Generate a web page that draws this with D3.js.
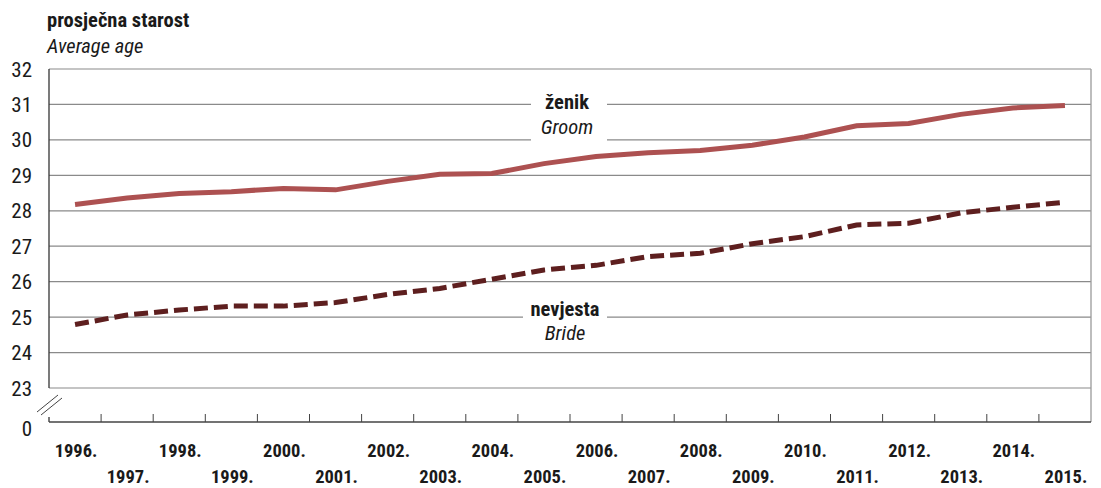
<!DOCTYPE html>
<html><head><meta charset="utf-8">
<script src="https://cdn.jsdelivr.net/npm/d3@7"></script>
<style>
body{margin:0;background:#fff;}
text{font-family:"Liberation Sans Narrow","Roboto Condensed","Arial Narrow",sans-serif;fill:#1a1a1a;}
</style></head>
<body><svg id="c" width="1101" height="488"></svg>
<script>
const years = ["1996.","1997.","1998.","1999.","2000.","2001.","2002.","2003.","2004.","2005.","2006.","2007.","2008.","2009.","2010.","2011.","2012.","2013.","2014.","2015."];
const groom = [28.18,28.36,28.49,28.54,28.63,28.59,28.83,29.03,29.05,29.33,29.53,29.64,29.70,29.85,30.08,30.40,30.46,30.72,30.90,30.97];
const bride = [24.79,25.06,25.20,25.31,25.31,25.41,25.64,25.81,26.07,26.33,26.46,26.71,26.80,27.07,27.27,27.60,27.65,27.94,28.10,28.24];
const yTicks = [23,24,25,26,27,28,29,30,31,32];
const titleHr = "prosječna starost", titleEn = "Average age";
const groomHr = "ženik", groomEn = "Groom", brideHr = "nevjesta", brideEn = "Bride";

const svg = d3.select("#c");
const L = 49, R = 1091, T = 69, B = 388, AX = 422;
const x = d3.scaleBand().domain(years).range([L, R]);
const y = d3.scaleLinear().domain([23, 32]).range([B, T]);

// gridlines
svg.append("g").selectAll("line").data(yTicks).join("line")
  .attr("x1", L).attr("x2", R).attr("y1", d => y(d)).attr("y2", d => y(d))
  .attr("stroke", "#8a8a8a").attr("stroke-width", 1.2);
// y labels
svg.append("g").selectAll("text").data(yTicks).join("text")
  .attr("x", 32).attr("y", d => y(d)).attr("dy", "0.36em").attr("text-anchor", "end")
  .attr("font-size", 21).text(d => d);
svg.append("text").attr("x", 32).attr("y", AX + 6).attr("dy", "0.36em").attr("text-anchor", "end")
  .attr("font-size", 21).text("0");

// left axis
svg.append("line").attr("x1", L).attr("x2", L).attr("y1", T).attr("y2", B).attr("stroke", "#333").attr("stroke-width", 1.3);
svg.append("line").attr("x1", L).attr("x2", L).attr("y1", AX - 5).attr("y2", AX).attr("stroke", "#333").attr("stroke-width", 1.3);
// right border
svg.append("line").attr("x1", R).attr("x2", R).attr("y1", T).attr("y2", AX).attr("stroke", "#9a9a9a").attr("stroke-width", 1.3);
// break marks
[[0,0],[4,3]].forEach(([dx,dy]) => svg.append("line")
  .attr("x1", 37 + dx).attr("y1", 412 + dy).attr("x2", 58 + dx).attr("y2", 395 + dy)
  .attr("stroke", "#444").attr("stroke-width", 1));

// bottom axis
const xAxis = d3.axisBottom(x).tickSize(0).tickFormat("");
const gx = svg.append("g").attr("transform", `translate(0,${AX})`).call(xAxis);
gx.select(".domain").remove();
svg.append("line").attr("x1", L).attr("x2", R).attr("y1", AX).attr("y2", AX).attr("stroke", "#444").attr("stroke-width", 1.3);
svg.append("g").selectAll("line").data(years.slice(1)).join("line")
  .attr("x1", d => x(d)).attr("x2", d => x(d)).attr("y1", AX - 8).attr("y2", AX)
  .attr("stroke", "#444").attr("stroke-width", 1);
svg.append("g").selectAll("text").data(years).join("text")
  .attr("x", d => x(d) + x.bandwidth() / 2 + 1)
  .attr("y", (d, i) => i % 2 === 0 ? 457 : 483)
  .attr("text-anchor", "middle").attr("font-size", 18.5).attr("font-weight", "bold").text(d => d);

// titles
svg.append("text").attr("x", 47).attr("y", 27).attr("font-size", 20.5).attr("font-weight", "bold").text(titleHr);
svg.append("text").attr("x", 47).attr("y", 53).attr("font-size", 20.5).attr("font-style", "italic").text(titleEn);

// label backgrounds
svg.append("rect").attr("x", 531).attr("y", 92).attr("width", 76).attr("height", 50).attr("fill", "#fff");
svg.append("rect").attr("x", 523).attr("y", 298).attr("width", 84).attr("height", 48).attr("fill", "#fff");

// lines
const line = d3.line().x((d, i) => x(years[i]) + x.bandwidth() / 2).y(d => y(d));
svg.append("path").datum(groom).attr("d", line).attr("fill", "none")
  .attr("stroke", "#ad5151").attr("stroke-width", 5);
svg.append("path").datum(bride).attr("d", line).attr("fill", "none")
  .attr("stroke", "#5e1f1f").attr("stroke-width", 5).attr("stroke-dasharray", "14,6");

// series labels
svg.append("text").attr("x", 567).attr("y", 109).attr("text-anchor", "middle").attr("font-size", 20.5).attr("font-weight", "bold").text(groomHr);
svg.append("text").attr("x", 567).attr("y", 134).attr("text-anchor", "middle").attr("font-size", 20.5).attr("font-style", "italic").text(groomEn);
svg.append("text").attr("x", 565).attr("y", 316).attr("text-anchor", "middle").attr("font-size", 20.5).attr("font-weight", "bold").text(brideHr);
svg.append("text").attr("x", 565).attr("y", 340).attr("text-anchor", "middle").attr("font-size", 20.5).attr("font-style", "italic").text(brideEn);
</script></body></html>
